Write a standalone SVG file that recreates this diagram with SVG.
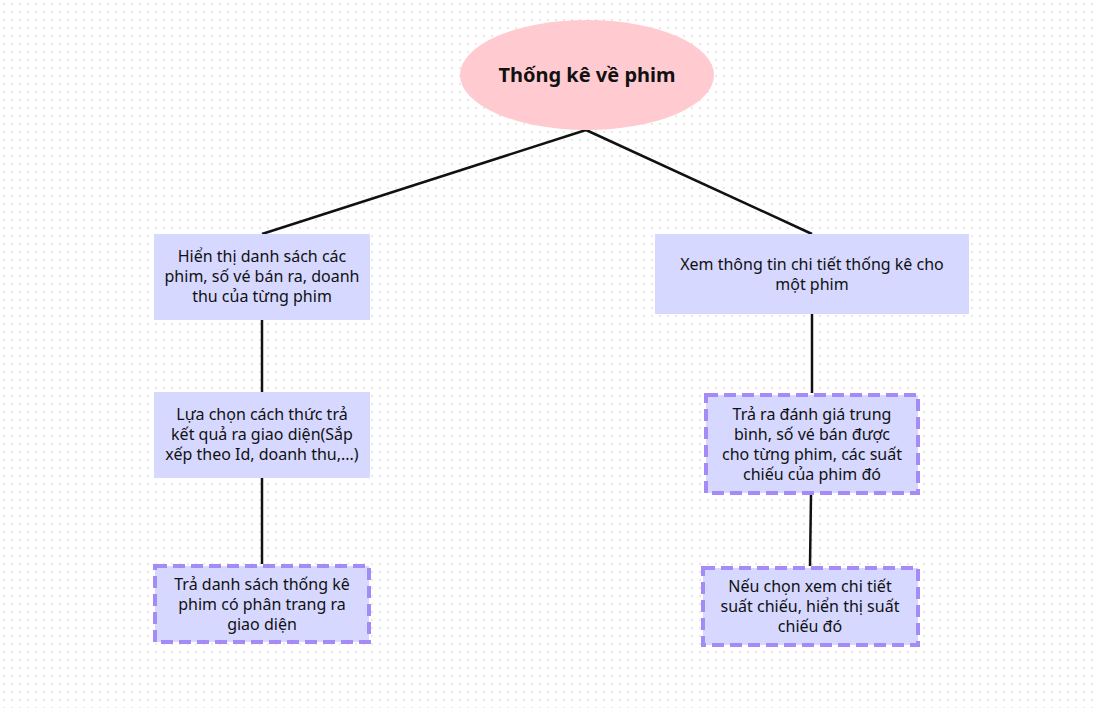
<svg xmlns="http://www.w3.org/2000/svg" width="1097" height="708" viewBox="0 0 1097 708">
<defs>
<pattern id="dots" x="0" y="0" width="8" height="8" patternUnits="userSpaceOnUse">
<rect x="3" y="3" width="2" height="2" fill="#e8e8e8"/>
</pattern>
<style>
.box{fill:#d6d8ff;}
.dash{fill:#d6d8ff;stroke:#a48bf5;stroke-width:4;stroke-dasharray:12 6;}
.t{font-family:"Noto Sans","Liberation Sans",sans-serif;font-size:16px;fill:#111;text-anchor:middle;}
.title{font-family:"Noto Sans","Liberation Sans",sans-serif;font-size:20px;font-weight:bold;fill:#111;text-anchor:middle;}
.c{stroke:#111;stroke-width:2.5;fill:none;}
</style>
</defs>
<rect width="1097" height="708" fill="#ffffff"/>
<rect width="1097" height="708" fill="url(#dots)"/>
<g id="connectors">
<line class="c" x1="586" y1="130" x2="262" y2="234"/>
<line class="c" x1="586" y1="130" x2="812" y2="234"/>
<line class="c" x1="262" y1="320" x2="262" y2="392"/>
<line class="c" x1="262" y1="478" x2="262" y2="564"/>
<line class="c" x1="812" y1="314" x2="812" y2="393"/>
<line class="c" x1="811" y1="495" x2="810" y2="566"/>
</g>
<g id="root">
<ellipse cx="587" cy="75" rx="127" ry="55" fill="#ffcbd1"/>
<text class="title" x="587" y="82">Thống kê về phim</text>
</g>
<g id="n1">
<rect class="box" x="154" y="234" width="216" height="86"/>
<text class="t" x="262" y="262">Hiển thị danh sách các</text>
<text class="t" x="262" y="282">phim, số vé bán ra, doanh</text>
<text class="t" x="262" y="302">thu của từng phim</text>
</g>
<g id="n2">
<rect class="box" x="154" y="392" width="216" height="86"/>
<text class="t" x="262" y="420">Lựa chọn cách thức trả</text>
<text class="t" x="262" y="440">kết quả ra giao diện(Sắp</text>
<text class="t" x="262" y="460">xếp theo Id, doanh thu,...)</text>
</g>
<g id="n3">
<rect class="dash" x="155" y="566" width="214" height="76"/>
<text class="t" x="262" y="590">Trả danh sách thống kê</text>
<text class="t" x="262" y="610">phim có phân trang ra</text>
<text class="t" x="262" y="630">giao diện</text>
</g>
<g id="n4">
<rect class="box" x="655" y="234" width="314" height="80"/>
<text class="t" x="812" y="270">Xem thông tin chi tiết thống kê cho</text>
<text class="t" x="812" y="290">một phim</text>
</g>
<g id="n5">
<rect class="dash" x="706" y="395" width="212" height="98"/>
<text class="t" x="812" y="420">Trả ra đánh giá trung</text>
<text class="t" x="812" y="440">bình, số vé bán được</text>
<text class="t" x="812" y="460">cho từng phim, các suất</text>
<text class="t" x="812" y="480">chiếu của phim đó</text>
</g>
<g id="n6">
<rect class="dash" x="703" y="568" width="215" height="77"/>
<text class="t" x="810" y="592">Nếu chọn xem chi tiết</text>
<text class="t" x="810" y="612">suất chiếu, hiển thị suất</text>
<text class="t" x="810" y="632">chiếu đó</text>
</g>
</svg>
